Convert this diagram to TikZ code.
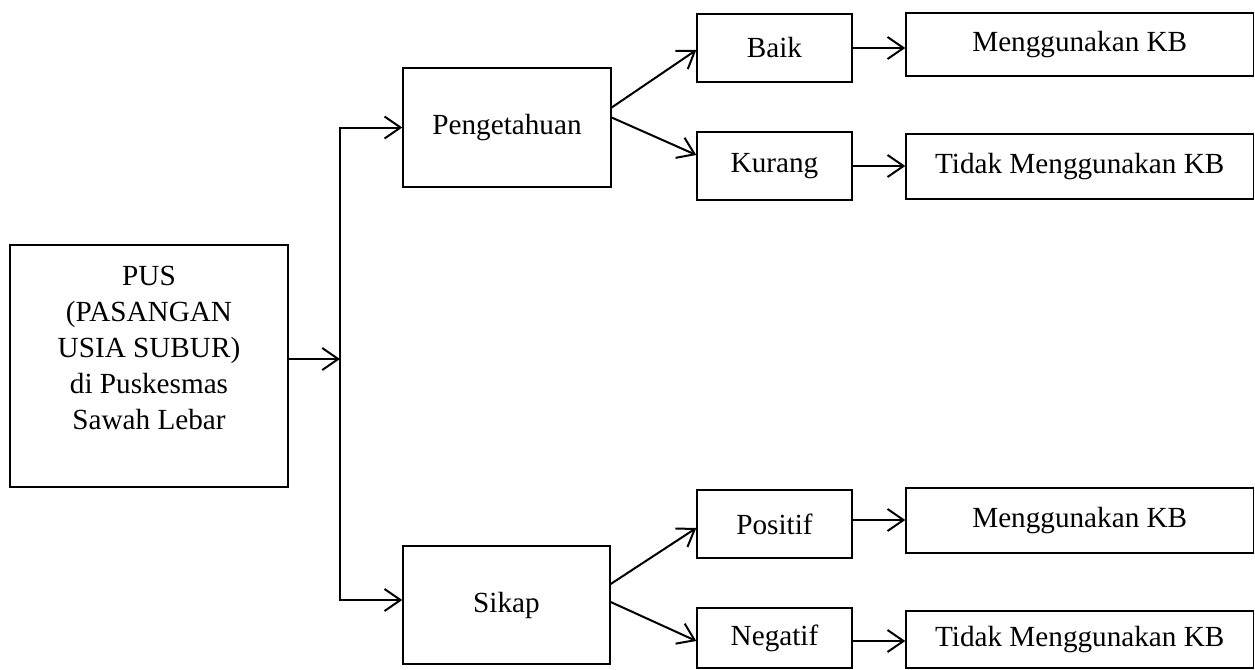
\documentclass[tikz,border=0pt]{standalone}
\usepackage{fontspec}
\setmainfont{Liberation Serif}
\usetikzlibrary{arrows.meta}
\tikzset{
  box/.style   = {draw, line width=0.7pt, align=center, inner sep=0pt,
                  font=\fontsize{14.6}{18}\selectfont},
  small/.style = {box, minimum width=77.5pt, minimum height=34pt},
  result/.style= {box, minimum width=173.75pt, minimum height=32pt},
  arrow/.style = {-{Straight Barb[length=8pt,width=11pt]}, line width=1pt},
}
\begin{document}
\begin{tikzpicture}[x=0.5pt, y=-0.5pt]
  \useasboundingbox (0,0) rectangle (1255,670);

  \node[box, minimum width=139pt, minimum height=121pt] (pus) at (149,366)
       {PUS\\(PASANGAN\\USIA SUBUR)\\di Puskesmas\\Sawah Lebar\\ \mbox{}};
  \node[box, minimum width=104pt, minimum height=59.5pt] (peng)  at (507,127.5) {Pengetahuan};
  \node[box, minimum width=103.5pt, minimum height=59pt] (sikap) at (506.5,605) {Sikap};

  \node[small] (baik)    at (774.5,48)  {Baik};
  \node[small] (kurang)  at (774.5,166) {Kurang};
  \node[small] (positif) at (774.5,524) {Positif};
  \node[small, minimum height=30pt] (negatif) at (774.5,638) {Negatif};

  \node[result, minimum height=31.5pt] (mk1)  at (1079.75,44.5)  {Menggunakan KB};
  \node[result, minimum height=32.5pt] (tdk1) at (1079.75,166.5) {Tidak Menggunakan KB};
  \node[result, minimum height=32.5pt] (mk2)  at (1079.75,520.5) {Menggunakan KB};
  \node[result, minimum height=28.5pt] (tdk2) at (1079.75,639.5) {Tidak Menggunakan KB};

  % split after the PUS box
  \coordinate (jn) at (340,359);
  \draw[arrow] (pus.east |- jn) -- (jn);
  \draw[arrow] (jn) |- (peng.west);
  \draw[arrow] (jn) |- ([yshift=2.5pt]sikap.west);

  \draw[arrow] ([yshift=10pt]peng.east) -- ([yshift=-1pt]baik.west);
  \draw[arrow] ([yshift=5pt]peng.east) -- ([yshift=5.5pt]kurang.west);
  \draw[arrow] ([yshift=10.5pt]sikap.east) -- ([yshift=-2pt]positif.west);
  \draw[arrow] ([yshift=1.5pt]sikap.east) -- ([yshift=-1.5pt]negatif.west);

  \draw[arrow] (baik.east) -- (baik.east -| mk1.west);
  \draw[arrow] (kurang.east) -- (kurang.east -| tdk1.west);
  \draw[arrow] ([yshift=2pt]positif.east) -- ([yshift=2pt]positif.east -| mk2.west);
  \draw[arrow] ([yshift=-1.5pt]negatif.east) -- ([yshift=-1.5pt]negatif.east -| tdk2.west);
\end{tikzpicture}
\end{document}
